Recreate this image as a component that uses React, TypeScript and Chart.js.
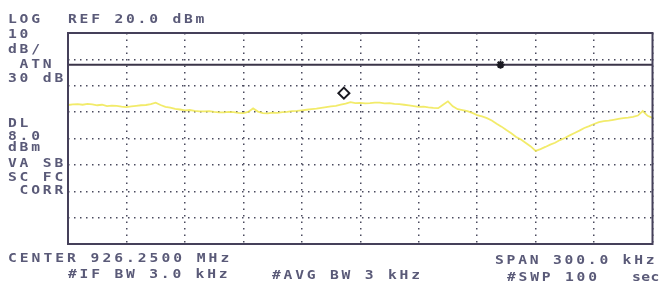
import { useEffect, useRef } from "react";
import { Chart, registerables } from "chart.js";

Chart.register(...registerables);

// Frequency offset from start of span (kHz), 2.5 kHz steps; span 300 kHz centred on 926.2500 MHz
const freqOffsetKHz = [
  0, 2.5, 5, 7.5, 10, 12.5, 15, 17.5, 20, 22.5, 25, 27.5, 30, 32.5, 35, 37.5, 40, 42.5,
  45, 47.5, 50, 52.5, 55, 57.5, 60, 62.5, 65, 67.5, 70, 72.5, 75, 77.5, 80, 82.5, 85,
  87.5, 90, 92.5, 95, 97.5, 100, 102.5, 105, 107.5, 110, 112.5, 115, 117.5, 120, 122.5,
  125, 127.5, 130, 132.5, 135, 137.5, 140, 142.5, 145, 147.5, 150, 152.5, 155, 157.5,
  160, 162.5, 165, 167.5, 170, 172.5, 175, 177.5, 180, 182.5, 185, 187.5, 190, 192.5,
  195, 197.5, 200, 202.5, 205, 207.5, 210, 212.5, 215, 217.5, 220, 222.5, 225, 227.5,
  230, 232.5, 235, 237.5, 240, 242.5, 245, 247.5, 250, 252.5, 255, 257.5, 260, 262.5,
  265, 267.5, 270, 272.5, 275, 277.5, 280, 282.5, 285, 287.5, 290, 292.5, 295, 297.5, 300,
];

// Trace level (dBm)
const traceDbm = [
  -7.3, -7.1, -7.0, -7.2, -6.9, -7.1, -7.4, -7.2, -7.7, -7.5, -7.6, -7.9, -8.1, -7.8,
  -7.6, -7.4, -7.3, -7.0, -6.4, -7.3, -8.0, -8.3, -8.8, -9.0, -9.3, -9.2, -9.5, -9.7,
  -9.7, -9.6, -9.9, -10.1, -10.1, -9.9, -10.0, -10.3, -10.4, -9.9, -8.6, -9.8, -10.4,
  -10.5, -10.2, -10.3, -10.0, -9.9, -9.6, -9.5, -9.3, -9.1, -8.9, -8.7, -8.4, -8.1,
  -7.8, -7.6, -7.2, -6.8, -6.2, -6.6, -6.5, -6.7, -6.6, -6.4, -6.4, -6.7, -6.6, -6.9,
  -7.0, -7.2, -7.4, -7.7, -8.0, -7.9, -8.2, -8.4, -8.5, -7.2, -5.9, -7.8, -8.9, -9.2,
  -9.6, -10.3, -11.1, -11.6, -12.3, -13.2, -14.4, -15.5, -16.8, -18.0, -19.4, -20.4,
  -21.7, -23.0, -24.7, -24.0, -23.2, -22.3, -21.6, -20.6, -19.8, -18.8, -17.9, -17.0,
  -16.0, -15.3, -14.5, -13.8, -13.4, -13.2, -12.9, -12.6, -12.3, -12.1, -11.8, -11.3,
  -9.6, -11.4, -12.2,
];

const refLevelDbm = 20;
const dbPerDiv = 10;
const verticalDivs = 8;
const spanKHz = 300;
const horizontalDivs = 10;
const displayLineDbm = 8;

const markerFreqKHz = [141.6];
const markerDbm = [-2.8];
const starFreqKHz = [222];
const starDbm = [8];

const leftLabels = ["LOG", "10", "dB/", " ATN", "30 dB", "DL", "8.0", "dBm", "VA SB", "SC FC", " CORR"];
const headerLabel = "REF 20.0 dBm";
const footerLabels = ["CENTER 926.2500 MHz", "#IF BW 3.0 kHz", "#AVG BW 3 kHz", "SPAN 300.0 kHz", "#SWP 100", "sec"];

const TEXT_COLOR = "#5a5a78";
const FRAME_COLOR = "#45405a";
const GRID_COLOR = "#4a4a5e";

export default function App() {
  const canvasRef = useRef<HTMLCanvasElement | null>(null);

  useEffect(() => {
    document.body.style.margin = "0";
    const canvas = canvasRef.current;
    if (!canvas) return;

    const drawText = (
      ctx: CanvasRenderingContext2D,
      s: string,
      x0: number,
      capTop: number,
      pitch = 11.6
    ) => {
      const base = capTop + 9;
      for (let i = 0; i < s.length; i++) {
        const ch = s[i];
        if (ch === " ") continue;
        ctx.save();
        ctx.translate(x0 + i * pitch, base);
        ctx.scale(1.22, 1);
        ctx.fillText(ch, 0, 0);
        ctx.restore();
      }
    };

    const textPlugin = {
      id: "saText",
      afterDraw(chart: any) {
        const ctx = chart.ctx as CanvasRenderingContext2D;
        const { left, right, top, bottom } = chart.chartArea;
        ctx.save();
        ctx.strokeStyle = FRAME_COLOR;
        ctx.lineWidth = 2;
        ctx.strokeRect(left, top, right - left, bottom - top);
        ctx.restore();

        ctx.save();
        ctx.fillStyle = TEXT_COLOR;
        ctx.font = "bold 12px 'DejaVu Sans Mono', monospace";
        ctx.textBaseline = "alphabetic";
        const leftTops = [14, 29, 44, 59, 73, 118, 131, 142, 158, 172, 185];
        leftLabels.forEach((s, i) => drawText(ctx, s, 8, leftTops[i]));
        drawText(ctx, headerLabel, 68, 14);
        const fpos = [
          [8, 253, 11.8],
          [68, 269, 11.6],
          [272, 270, 11.6],
          [495, 255, 11.6],
          [507, 272, 11.6],
          [632, 272, 9.2],
        ];
        footerLabels.forEach((s, i) => drawText(ctx, s, fpos[i][0], fpos[i][1], fpos[i][2]));
        ctx.restore();
      },
    };

    const chart = new Chart(canvas, {
      type: "line",
      data: {
        datasets: [
          {
            label: "DL",
            data: [
              { x: 0, y: displayLineDbm },
              { x: spanKHz, y: displayLineDbm },
            ],
            borderColor: "#3b3548",
            borderWidth: 2,
            pointRadius: 0,
            order: 3,
          },
          {
            label: "Trace",
            data: freqOffsetKHz.map((f, i) => ({ x: f, y: traceDbm[i] })),
            borderColor: "rgba(240, 232, 80, 0.85)",
            borderWidth: 1.8,
            pointRadius: 0,
            tension: 0,
            order: 2,
          },
          {
            label: "Marker",
            data: markerFreqKHz.map((f, i) => ({ x: f, y: markerDbm[i] })),
            showLine: false,
            pointStyle: "rectRot",
            pointRadius: 5.5,
            borderColor: "#1a1a22",
            backgroundColor: "#ffffff",
            borderWidth: 2,
            order: 1,
          },
          {
            label: "Star",
            data: starFreqKHz.map((f, i) => ({ x: f, y: starDbm[i] })),
            showLine: false,
            pointStyle: "star",
            pointRadius: 4,
            borderColor: "#1a1a22",
            backgroundColor: "#1a1a22",
            borderWidth: 2,
            order: 1,
          },
        ],
      },
      options: {
        animation: false,
        responsive: false,
        maintainAspectRatio: false,
        layout: { padding: { left: 68, top: 33, right: 3, bottom: 38 } },
        plugins: { legend: { display: false }, tooltip: { enabled: false } },
        scales: {
          x: {
            type: "linear",
            min: 0,
            max: spanKHz,
            ticks: { display: false, stepSize: spanKHz / horizontalDivs },
            grid: { display: true, drawTicks: false, color: GRID_COLOR, lineWidth: 1.5 },
            border: { display: false, dash: [1.5, 5] },
          },
          y: {
            type: "linear",
            min: refLevelDbm - dbPerDiv * verticalDivs,
            max: refLevelDbm,
            ticks: { display: false, stepSize: dbPerDiv },
            grid: { display: true, drawTicks: false, color: GRID_COLOR, lineWidth: 1.5 },
            border: { display: false, dash: [1.5, 4.5] },
          },
        },
      },
      plugins: [textPlugin],
    });

    return () => chart.destroy();
  }, []);

  return (
    <div style={{ width: 660, height: 282, background: "#ffffff" }}>
      <canvas ref={canvasRef} width={660} height={282} />
    </div>
  );
}
